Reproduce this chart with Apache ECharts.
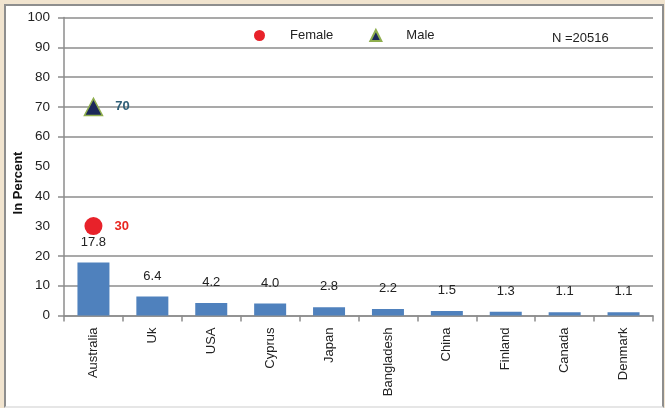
<!DOCTYPE html>
<html>
<head>
<meta charset="utf-8">
<script src="https://cdn.jsdelivr.net/npm/echarts@6/dist/echarts.min.js"></script>
<style>
html,body{margin:0;padding:0;width:665px;height:408px;background:#f1e4cf;overflow:hidden;}
#frame{position:absolute;left:4px;top:4px;width:656px;height:400px;background:#fff;border:2px solid #8e8e8e;border-bottom-color:#e6e6e6;}
#chart{position:absolute;left:0;top:0;width:665px;height:408px;}
</style>
</head>
<body>
<div id="frame"></div>
<div id="chart"></div>
<script>
const categories = ['Australia','Uk','USA','Cyprus','Japan','Bangladesh','China','Finland','Canada','Denmark'];
const countryPercent = [17.8, 6.4, 4.2, 4.0, 2.8, 2.2, 1.5, 1.3, 1.1, 1.1];
const femalePercent = [30, '-', '-', '-', '-', '-', '-', '-', '-', '-'];
const malePercent = [70, '-', '-', '-', '-', '-', '-', '-', '-', '-'];
const yTicks = [0, 10, 20, 40, 60, 70, 80, 90, 100];
const sampleNote = 'N =20516';

const FONT = '"Liberation Sans", Arial, sans-serif';
const GRID = '#8c8c8c';
const chart = echarts.init(document.getElementById('chart'), null, {renderer: 'canvas'});
chart.setOption({
  backgroundColor: 'transparent',
  textStyle: {fontFamily: FONT},
  grid: {left: 64, right: 12, top: 17.5, bottom: 92.5, containLabel: false},
  legend: {
    data: ['Female', 'Male'],
    left: 249, top: 24,
    itemWidth: 11, itemHeight: 11, itemGap: 36,
    textStyle: {fontFamily: FONT, fontSize: 13, color: '#222', padding: [0, 0, 0, 20]}
  },
  graphic: [
    {type: 'text', left: 552, top: 32, style: {text: sampleNote, font: '13px ' + FONT, fill: '#222'}},
    {type: 'text', x: 18, y: 183, rotation: Math.PI / 2, style: {text: 'In Percent', font: 'bold 13px ' + FONT, fill: '#111', align: 'center', verticalAlign: 'middle'}}
  ],
  xAxis: {
    type: 'category',
    data: categories,
    boundaryGap: true,
    axisLine: {lineStyle: {color: GRID, width: 1.5}},
    axisTick: {show: true, alignWithLabel: false, length: 6, lineStyle: {color: GRID, width: 1.5}},
    axisLabel: {rotate: 90, margin: 12, fontSize: 13, color: '#222', fontFamily: FONT, interval: 0}
  },
  yAxis: {
    type: 'value',
    min: 0, max: 100, interval: 10,
    axisLine: {show: true, lineStyle: {color: GRID, width: 1.5}},
    axisTick: {show: true, length: 6, customValues: yTicks, lineStyle: {color: GRID, width: 1.5}},
    axisLabel: {margin: 14, fontSize: 13.5, color: '#222', fontFamily: FONT},
    splitLine: {show: true, lineStyle: {width: 1.5, color: GRID}}
  },
  series: [
    {
      name: 'Countries', type: 'bar', data: countryPercent, barWidth: 32,
      itemStyle: {color: '#4f81bd'},
      label: {show: true, position: 'top', distance: 14, fontSize: 13, color: '#222', fontFamily: FONT,
        formatter: p => p.value.toFixed(1)}
    },
    {
      name: 'Female', type: 'scatter', data: femalePercent, symbol: 'circle', symbolSize: 18, z: 5,
      itemStyle: {color: '#e8222a', opacity: 1},
      label: {show: true, position: 'right', distance: 12, fontSize: 13, fontWeight: 'bold', color: '#e8261f', fontFamily: FONT}
    },
    {
      name: 'Male', type: 'scatter', data: malePercent, symbol: 'triangle', symbolSize: [18, 17], z: 5,
      itemStyle: {color: '#1b2859', borderColor: '#8fae4e', borderWidth: 1.5, opacity: 1},
      label: {show: true, position: 'right', distance: 12, fontSize: 13, fontWeight: 'bold', color: '#2f5f78', fontFamily: FONT}
    }
  ]
});
</script>
</body>
</html>
